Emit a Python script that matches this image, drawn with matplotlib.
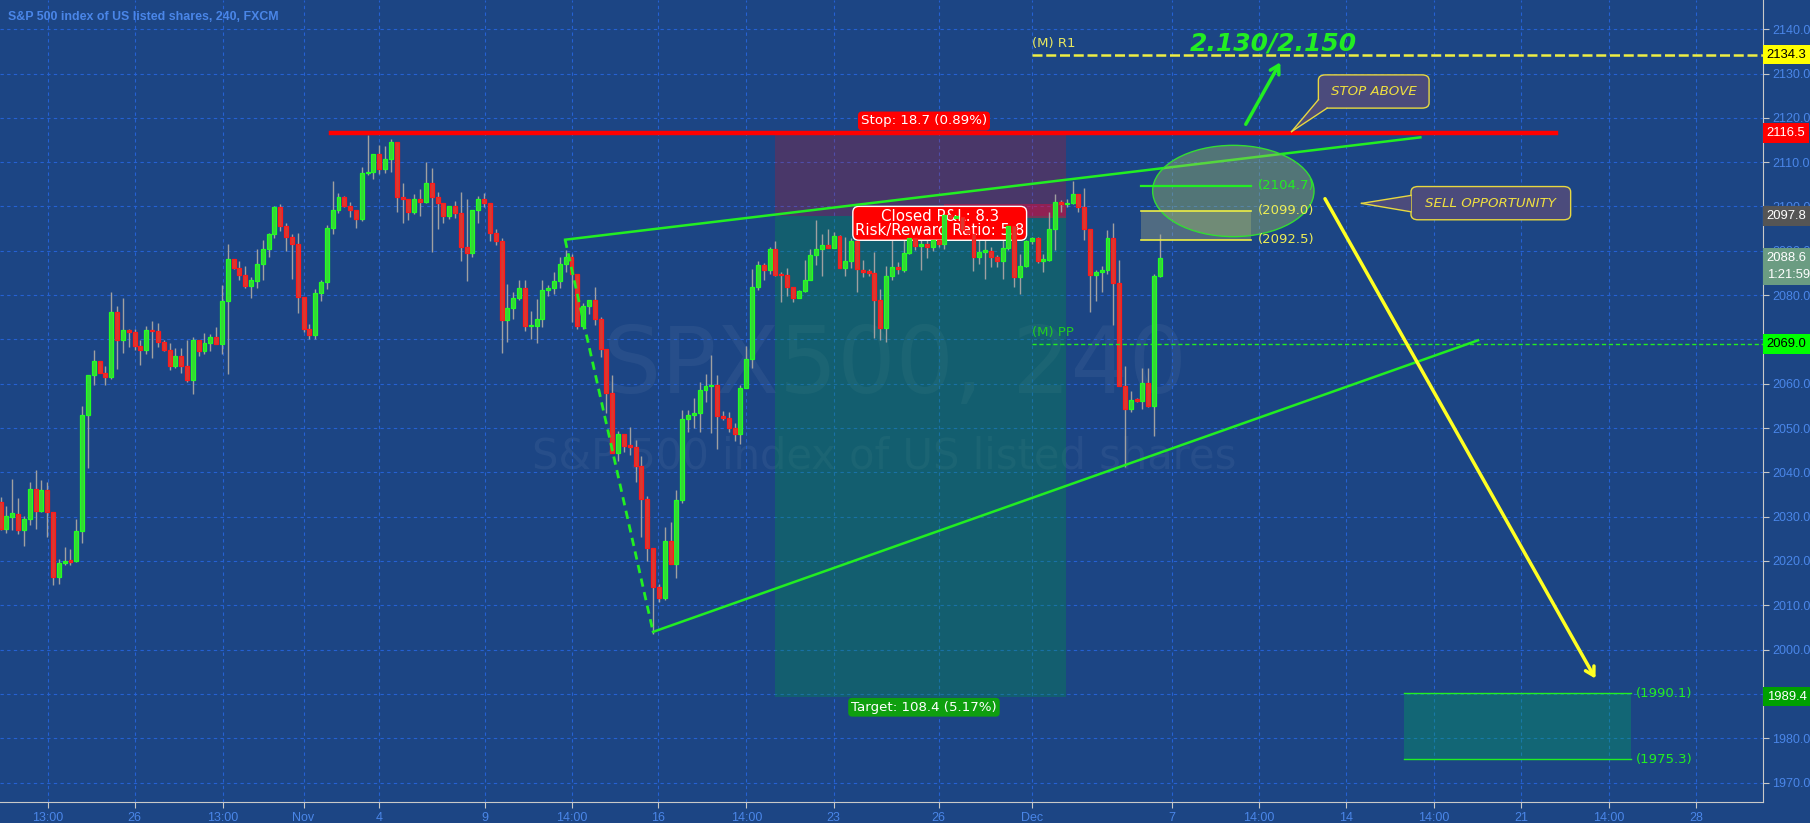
#!/usr/bin/env python
"""SPX500 4h chart (TradingView style) with a short trade idea drawn on top."""
import numpy as np
import matplotlib
matplotlib.use("Agg")
import matplotlib.pyplot as plt
import matplotlib.transforms as mtransforms
from matplotlib.patches import Rectangle, Ellipse, FancyBboxPatch, Polygon

# colours
BG = "#1c4584"
GRID = "#2561d2"
AXIS_TXT = "#4a86e8"
UP_FILL, UP_EDGE = "#36d636", "#22ff22"
DN_FILL, DN_EDGE = "#d83a30", "#ff1a1a"
WICK = "#a0a0a0"
GREEN = "#22ee22"
YELLOW = "#eeee44"

# 4h candles
OPENS = [
    2033.4, 2027.2, 2030.0, 2030.7, 2026.9, 2029.4, 2036.2, 2031.3, 2036.0, 2031.0,
    2016.3, 2019.6, 2019.9, 2019.9, 2026.7, 2053.0, 2061.9, 2065.1, 2062.5, 2061.6,
    2076.3, 2069.8, 2072.1, 2071.6, 2068.5, 2067.6, 2072.1, 2071.9, 2069.4, 2067.6,
    2063.9, 2066.2, 2063.9, 2060.9, 2069.8, 2067.3, 2069.2, 2070.5, 2068.9, 2078.7,
    2088.2, 2086.2, 2084.6, 2082.1, 2083.1, 2087.1, 2090.5, 2093.7, 2099.8, 2095.7,
    2093.1, 2091.6, 2079.5, 2072.3, 2071.0, 2080.5, 2083.0, 2095.2, 2099.3, 2102.1,
    2100.2, 2099.3, 2097.2, 2107.5, 2107.7, 2111.8, 2108.4, 2110.7, 2114.5, 2102.1,
    2101.6, 2098.7, 2101.8, 2101.1, 2105.2, 2102.2, 2100.7, 2097.9, 2100.2, 2098.6,
    2090.9, 2089.5, 2099.3, 2101.8, 2100.8, 2094.1, 2092.2, 2074.4, 2077.1, 2079.4,
    2081.6, 2073.0, 2073.0, 2074.6, 2081.2, 2081.6, 2083.2, 2087.1, 2088.7, 2084.7,
    2073.0, 2077.5, 2078.9, 2074.5, 2067.8, 2058.0, 2044.3, 2048.7, 2045.9, 2045.7,
    2041.5, 2034.0, 2022.9, 2014.2, 2011.7, 2024.4, 2019.4, 2033.8, 2052.1, 2053.0,
    2053.3, 2058.5, 2059.4, 2059.6, 2052.8, 2052.3, 2050.0, 2048.7, 2059.1, 2065.5,
    2081.9, 2086.7, 2085.7, 2090.5, 2084.6, 2084.5, 2081.9, 2079.4, 2081.0, 2083.4,
    2089.0, 2090.5, 2091.2, 2090.7, 2093.3, 2086.2, 2087.8, 2092.1, 2085.6, 2085.3,
    2085.1, 2078.9, 2072.6, 2084.2, 2086.2, 2085.7, 2089.6, 2092.9, 2091.1, 2091.5,
    2090.9, 2092.5, 2091.6, 2098.0, 2097.4, 2097.7, 2094.6, 2093.9, 2088.5, 2089.8,
    2090.0, 2088.5, 2087.8, 2090.6, 2095.6, 2084.0, 2086.6, 2092.1, 2092.8, 2087.8,
    2088.0, 2095.0, 2101.1, 2100.5, 2100.7, 2102.8, 2099.8, 2094.9, 2084.6, 2085.3,
    2085.7, 2093.0, 2082.8, 2059.5, 2054.4, 2056.5, 2056.1, 2060.1, 2054.9, 2084.2,
]
HIGHS = [
    2034.5, 2032.5, 2038.5, 2034.1, 2030.1, 2037.9, 2040.6, 2038.3, 2037.9, 2031.0,
    2020.4, 2023.2, 2022.8, 2029.4, 2054.9, 2061.9, 2067.6, 2065.1, 2064.0, 2080.6,
    2077.6, 2079.4, 2072.3, 2072.3, 2069.9, 2073.1, 2074.2, 2073.8, 2069.9, 2069.2,
    2068.1, 2068.0, 2069.8, 2070.6, 2069.8, 2071.5, 2071.3, 2072.7, 2082.2, 2091.6,
    2088.2, 2087.8, 2086.6, 2084.1, 2090.3, 2092.4, 2094.1, 2100.2, 2100.5, 2096.2,
    2093.9, 2094.1, 2079.5, 2073.5, 2081.4, 2083.4, 2095.8, 2105.8, 2103.0, 2102.4,
    2101.0, 2099.3, 2108.9, 2116.2, 2111.8, 2113.9, 2113.7, 2115.2, 2114.5, 2105.2,
    2101.6, 2102.8, 2103.9, 2110.1, 2108.6, 2103.3, 2100.7, 2100.2, 2101.2, 2103.3,
    2101.8, 2099.3, 2102.4, 2103.0, 2100.8, 2094.9, 2092.8, 2082.5, 2080.6, 2083.5,
    2083.4, 2076.5, 2079.2, 2083.5, 2082.2, 2085.3, 2088.7, 2090.1, 2089.3, 2084.7,
    2078.2, 2078.9, 2081.8, 2075.0, 2067.8, 2062.0, 2049.3, 2048.7, 2050.2, 2047.4,
    2043.6, 2034.7, 2022.9, 2014.8, 2027.7, 2028.8, 2036.0, 2054.0, 2054.0, 2056.7,
    2060.5, 2062.3, 2066.5, 2061.9, 2053.8, 2053.6, 2051.1, 2059.8, 2068.5, 2085.8,
    2087.7, 2087.2, 2090.9, 2092.2, 2085.2, 2086.1, 2081.9, 2081.2, 2088.0, 2090.3,
    2096.9, 2093.9, 2095.0, 2094.2, 2093.6, 2093.1, 2093.0, 2093.1, 2088.0, 2085.9,
    2089.7, 2081.3, 2086.6, 2093.9, 2087.5, 2092.4, 2093.5, 2093.5, 2093.9, 2093.9,
    2094.5, 2094.6, 2098.3, 2099.6, 2098.4, 2097.9, 2095.4, 2094.0, 2092.4, 2093.5,
    2090.9, 2089.0, 2092.8, 2096.2, 2095.6, 2089.2, 2092.5, 2093.1, 2093.1, 2089.3,
    2098.8, 2102.8, 2101.5, 2101.8, 2105.8, 2102.8, 2104.1, 2094.9, 2085.6, 2086.5,
    2094.6, 2096.2, 2088.0, 2064.0, 2058.3, 2056.8, 2063.6, 2063.6, 2084.7, 2093.7,
]
LOWS = [
    2026.9, 2026.4, 2026.9, 2026.0, 2023.3, 2028.1, 2027.3, 2031.1, 2025.3, 2014.5,
    2014.8, 2019.0, 2019.0, 2019.8, 2024.1, 2040.9, 2059.8, 2062.5, 2059.8, 2061.1,
    2063.3, 2067.0, 2068.2, 2067.7, 2064.2, 2066.7, 2065.7, 2068.2, 2067.4, 2063.2,
    2063.6, 2062.5, 2060.3, 2057.7, 2066.2, 2066.8, 2067.3, 2068.9, 2066.8, 2062.1,
    2086.0, 2083.4, 2081.6, 2079.4, 2081.6, 2083.4, 2088.6, 2093.0, 2094.4, 2090.0,
    2083.7, 2076.0, 2071.6, 2070.2, 2070.2, 2078.6, 2081.4, 2093.9, 2098.6, 2099.8,
    2097.7, 2095.2, 2096.7, 2107.1, 2106.3, 2107.4, 2107.5, 2107.7, 2098.8, 2096.2,
    2096.9, 2098.4, 2097.9, 2100.8, 2089.7, 2094.9, 2096.2, 2097.1, 2097.3, 2087.7,
    2083.1, 2088.6, 2096.3, 2099.8, 2092.2, 2091.2, 2067.0, 2069.5, 2074.7, 2078.8,
    2072.0, 2070.0, 2069.1, 2072.7, 2079.7, 2080.3, 2081.6, 2085.2, 2074.0, 2072.3,
    2072.3, 2075.7, 2073.3, 2066.1, 2053.4, 2044.3, 2042.6, 2044.7, 2044.0, 2037.9,
    2025.4, 2020.1, 2003.5, 2010.8, 2011.3, 2019.4, 2016.2, 2033.0, 2049.1, 2050.0,
    2049.1, 2055.9, 2048.9, 2045.2, 2051.9, 2049.1, 2047.0, 2046.4, 2059.1, 2063.6,
    2081.2, 2083.3, 2084.8, 2084.2, 2078.4, 2079.9, 2078.4, 2079.3, 2080.8, 2083.3,
    2086.9, 2084.4, 2090.7, 2090.7, 2086.1, 2084.3, 2086.1, 2080.7, 2084.1, 2084.2,
    2070.3, 2069.8, 2069.5, 2083.4, 2084.8, 2085.3, 2089.3, 2090.1, 2085.7, 2088.4,
    2089.9, 2090.9, 2090.5, 2096.9, 2096.9, 2093.9, 2093.5, 2085.4, 2087.1, 2083.7,
    2086.3, 2086.3, 2083.7, 2090.1, 2081.9, 2080.3, 2086.3, 2091.6, 2087.2, 2085.2,
    2087.8, 2090.1, 2098.8, 2099.8, 2100.5, 2098.8, 2092.5, 2076.1, 2078.6, 2080.7,
    2084.8, 2073.2, 2059.5, 2041.1, 2053.6, 2055.9, 2054.2, 2054.8, 2048.1, 2084.1,
]
CLOSES = [
    2027.2, 2030.1, 2030.8, 2026.9, 2029.4, 2036.2, 2031.3, 2036.0, 2031.0, 2016.4,
    2019.6, 2019.9, 2019.8, 2026.7, 2053.0, 2061.9, 2065.1, 2062.5, 2061.6, 2076.3,
    2069.8, 2072.1, 2071.6, 2068.5, 2067.6, 2072.1, 2071.8, 2069.4, 2067.6, 2063.9,
    2066.2, 2063.9, 2060.9, 2069.8, 2067.3, 2069.2, 2070.6, 2068.9, 2078.7, 2088.2,
    2086.2, 2084.6, 2082.1, 2083.3, 2087.1, 2090.5, 2093.7, 2099.8, 2095.7, 2093.1,
    2091.6, 2079.5, 2072.3, 2071.0, 2080.5, 2083.0, 2095.2, 2099.3, 2102.1, 2100.2,
    2099.3, 2097.2, 2107.5, 2107.7, 2111.8, 2108.4, 2110.7, 2114.5, 2102.1, 2101.7,
    2098.7, 2101.8, 2101.1, 2105.2, 2102.2, 2100.7, 2097.9, 2100.2, 2098.6, 2090.9,
    2089.5, 2099.3, 2101.8, 2100.8, 2094.1, 2092.2, 2074.4, 2077.1, 2079.4, 2081.6,
    2073.0, 2073.0, 2074.6, 2081.2, 2081.6, 2083.2, 2087.1, 2088.7, 2084.7, 2073.0,
    2077.5, 2078.9, 2074.5, 2067.8, 2058.0, 2044.3, 2048.7, 2045.9, 2045.8, 2041.5,
    2034.0, 2022.9, 2014.2, 2011.7, 2024.4, 2019.4, 2033.8, 2052.1, 2053.0, 2053.3,
    2058.5, 2059.5, 2059.6, 2052.8, 2052.3, 2050.0, 2048.7, 2059.1, 2065.5, 2081.9,
    2086.7, 2085.7, 2090.5, 2084.6, 2084.5, 2081.9, 2079.4, 2081.0, 2083.4, 2089.0,
    2090.5, 2091.2, 2090.7, 2093.3, 2086.2, 2087.8, 2092.1, 2085.8, 2085.3, 2085.1,
    2078.9, 2072.6, 2084.2, 2086.3, 2085.9, 2089.6, 2092.9, 2091.1, 2091.6, 2090.9,
    2092.5, 2091.6, 2098.1, 2097.4, 2097.6, 2094.6, 2094.1, 2088.5, 2089.8, 2090.0,
    2088.5, 2087.8, 2090.6, 2095.6, 2084.0, 2086.6, 2092.1, 2092.8, 2087.8, 2088.0,
    2095.0, 2101.1, 2100.5, 2100.7, 2102.8, 2099.8, 2094.9, 2084.6, 2085.3, 2085.7,
    2093.0, 2082.8, 2059.5, 2054.4, 2056.4, 2056.1, 2060.1, 2054.9, 2084.2, 2088.3,
]

# time axis (bar index units, 6 bars a day)
XTICK_POS = [8.1, 23, 38.1, 52, 65, 83.1, 98, 112.9, 128, 143, 161, 177,
             201, 216, 231, 246, 261, 276, 291]
XTICK_LABELS = ["13:00", "26", "13:00", "Nov", "4", "9", "14:00", "16", "14:00",
                "23", "26", "Dec", "7", "14:00", "14", "14:00", "21", "14:00", "28"]
YTICKS = list(range(1970, 2141, 10))

# trade levels
STOP_LEVEL = 2116.5
ENTRY = 2097.8
TARGET = 1989.4
R1 = 2134.3
PP = 2069.0
BOX_LEVELS = [2104.7, 2099.0, 2092.5]
TARGET_BOX = [1990.1, 1975.3]

# right axis price tags: text, price, box colour, text colour
PRICE_TAGS = [
    ("2134.3", 2134.3, "#ffff00", "black"),
    ("2116.5", 2116.5, "#ff0000", "white"),
    ("2097.8", 2097.8, "#555555", "white"),
    ("2088.6", 2088.4, "#6b9c82", "white"),
    ("1:21:59", 2084.6, "#6b9c82", "white"),
    ("2069.0", 2069.0, "#00ff00", "black"),
    ("1989.4", 1989.4, "#00a000", "white"),
]


def draw_candles(ax):
    o = np.array(OPENS)
    c = np.array(CLOSES)
    h = np.maximum(np.array(HIGHS), np.maximum(o, c))
    l = np.minimum(np.array(LOWS), np.minimum(o, c))
    x = np.arange(len(o))
    up = c >= o
    ax.vlines(x, l, h, color=WICK, lw=1, zorder=3)
    bottom = np.minimum(o, c)
    height = np.maximum(np.abs(c - o), 0.35)
    ax.bar(x[up], height[up], bottom=bottom[up], width=0.68, color=UP_FILL,
           edgecolor=UP_EDGE, linewidth=0.9, zorder=4)
    ax.bar(x[~up], height[~up], bottom=bottom[~up], width=0.68, color=DN_FILL,
           edgecolor=DN_EDGE, linewidth=0.9, zorder=4)


def callout(ax, x0, x1, y0, y1, tail, text):
    """rounded box with a pointer triangle, TradingView callout style"""
    box = FancyBboxPatch((x0, y0), x1 - x0, y1 - y0,
                         boxstyle="round,pad=0,rounding_size=1.2",
                         fc="#4b4b7c", ec="#e8d840", lw=1, zorder=7)
    ax.add_patch(box)
    ax.add_patch(Polygon(tail, closed=True, fc="#4b4b7c", ec="none", zorder=7.1))
    ax.plot([tail[0][0], tail[2][0]], [tail[0][1], tail[2][1]], color="#e8d840", lw=1, zorder=7.2)
    ax.plot([tail[1][0], tail[2][0]], [tail[1][1], tail[2][1]], color="#e8d840", lw=1, zorder=7.2)
    ax.text((x0 + x1) / 2, (y0 + y1) / 2, text, color="#f0e040", fontsize=9.6,
            style="italic", ha="center", va="center", zorder=7.3)


def main():
    plt.rcParams["font.family"] = ["DejaVu Sans"]
    fig = plt.figure(figsize=(18.1, 8.23), dpi=100, facecolor=BG)
    ax = fig.add_axes([0, 0.0255, 0.9743, 0.9745], facecolor=BG)

    draw_candles(ax)

    # trade zones
    ax.add_patch(Rectangle((132.9, ENTRY), 182.8 - 132.9, STOP_LEVEL - ENTRY,
                           fc=(1, 0, 0, 0.2), ec="none", zorder=1))
    ax.add_patch(Rectangle((161.9, 2097.4), 182.8 - 161.9, 3.1,
                           fc=(1, 0, 0.2, 0.4), ec="none", zorder=1.1))
    ax.add_patch(Rectangle((132.9, TARGET), 182.8 - 132.9, ENTRY - TARGET,
                           fc=(0.0, 0.6, 0.25, 0.3), ec="none", zorder=1))

    # stop line and trend lines
    ax.plot([56.8, 266.9], [STOP_LEVEL, STOP_LEVEL], color="#ff0000", lw=3.2, zorder=6)
    ax.plot([96.9, 243.7], [2092.5, 2115.6], color=GREEN, lw=1.8, zorder=5)
    ax.plot([96.9, 112.0], [2092.5, 2004.0], color=GREEN, lw=2, dashes=(3, 2), zorder=5)
    ax.plot([112.0, 253.6], [2004.0, 2069.8], color=GREEN, lw=1.8, zorder=5)

    # monthly pivots
    ax.plot([177, 310], [R1, R1], color=YELLOW, lw=1.8, dashes=(4, 1.5), zorder=5)
    ax.text(177, 2135.4, "(M) R1", color="#e8e860", fontsize=9.5, ha="left", va="bottom", zorder=5)
    ax.plot([177, 310], [PP, PP], color=GREEN, lw=1, dashes=(3, 2), zorder=5)
    ax.text(177, 2070.2, "(M) PP", color="#22cc22", fontsize=9.5, ha="left", va="bottom", zorder=5)

    # sell zone
    ax.add_patch(Rectangle((195.7, BOX_LEVELS[2]), 214.6 - 195.7, BOX_LEVELS[1] - BOX_LEVELS[2],
                           fc=(0.7, 0.7, 0.5, 0.35), ec="none", zorder=5))
    ax.plot([195.7, 214.6], [BOX_LEVELS[1]] * 2, color=YELLOW, lw=1.2, zorder=5.5)
    ax.plot([195.7, 214.6], [BOX_LEVELS[2]] * 2, color=YELLOW, lw=1.2, zorder=5.5)
    ax.plot([195.7, 214.6], [BOX_LEVELS[0]] * 2, color=GREEN, lw=1.6, zorder=5.5)
    ax.add_patch(Ellipse((211.6, 2103.5), 27.7, 20.6, fc=(0.62, 0.72, 0.4, 0.42),
                         ec="#33dd33", lw=1, zorder=5.2))
    for lvl, col in zip(BOX_LEVELS, [GREEN, "#eeee55", "#eeee55"]):
        ax.text(215.8, lvl, "({:.1f})".format(lvl), color=col, fontsize=9.5,
                ha="left", va="center", zorder=6)

    # target box
    ax.add_patch(Rectangle((240.9, TARGET_BOX[1]), 279.8 - 240.9, TARGET_BOX[0] - TARGET_BOX[1],
                           fc=(0.0, 0.65, 0.35, 0.35), ec="none", zorder=2))
    for lvl in TARGET_BOX:
        ax.plot([240.9, 279.8], [lvl, lvl], color=GREEN, lw=1, zorder=2.5)
        ax.text(280.7, lvl, "({:.1f})".format(lvl), color=GREEN, fontsize=9.5,
                ha="left", va="center", zorder=6)

    # arrows and big target text
    ax.annotate("", xy=(219.9, 2133.1), xytext=(213.5, 2118.0),
                arrowprops=dict(arrowstyle="->,head_length=0.6,head_width=0.35",
                                color=GREEN, lw=2.5), zorder=6)
    ax.annotate("", xy=(274.0, 1992.9), xytext=(227.1, 2102.3),
                arrowprops=dict(arrowstyle="->,head_length=0.6,head_width=0.35",
                                color="#ffff22", lw=2.5), zorder=6)
    ax.text(218.5, 2136.7, "2.130/2.150", color=GREEN, fontsize=18, fontweight="bold",
            style="italic", ha="center", va="center", zorder=6)

    callout(ax, 226.2, 245.2, 2122.2, 2129.7,
            [(226.2, 2124.1), (227.7, 2122.2), (221.6, 2116.9)], "STOP ABOVE")
    callout(ax, 242.1, 269.5, 2097.0, 2104.5,
            [(242.1, 2102.5), (242.1, 2098.8), (233.6, 2100.7)], "SELL OPPORTUNITY")

    # position tool labels
    ax.text(158.5, 2119.3, "Stop: 18.7 (0.89%)", color="white", fontsize=9.6, ha="center",
            va="center", zorder=8,
            bbox=dict(boxstyle="round,pad=0.22,rounding_size=0.3", fc="#ff0000", ec="none"))
    ax.text(158.5, 1987.0, "Target: 108.4 (5.17%)", color="white", fontsize=9.6, ha="center",
            va="center", zorder=8,
            bbox=dict(boxstyle="round,pad=0.22,rounding_size=0.3", fc="#0f9f0f", ec="none"))
    ax.text(161.2, 2096.2, "Closed P&L: 8.3\nRisk/Reward Ratio: 5.8", color="white",
            fontsize=10.8, ha="center", va="center", linespacing=0.95, zorder=3.5,
            bbox=dict(boxstyle="round,pad=0.15,rounding_size=0.4", fc="#ff0000", ec="white", lw=1))

    # watermark
    ax.text(153.6, 2063.8, "SPX500, 240", color="white", alpha=0.05, fontsize=66,
            ha="center", va="center", zorder=0.5)
    ax.text(151.6, 2043.5, "S&P 500 index of US listed shares", color="white", alpha=0.05,
            fontsize=30, ha="center", va="center", zorder=0.5)

    ax.text(0.0045, 0.979, "S&P 500 index of US listed shares, 240, FXCM", transform=ax.transAxes,
            color=AXIS_TXT, fontsize=8.9, fontweight="bold", family="Liberation Sans",
            ha="left", va="center")

    # axes look
    ax.set_xlim(-0.1, 302.6)
    ax.set_ylim(1965.6, 2146.6)
    ax.set_axisbelow(True)
    ax.grid(True, color=GRID, linestyle=(0, (3, 3)), linewidth=0.8)
    for side in ("top", "left"):
        ax.spines[side].set_visible(False)
    for side in ("right", "bottom"):
        ax.spines[side].set_color("#c8c8c8")
    ax.set_xticks(XTICK_POS)
    ax.set_xticklabels(XTICK_LABELS, family="Liberation Sans")
    ax.yaxis.tick_right()
    ax.set_yticks(YTICKS)
    ax.set_yticklabels(["{:.1f}".format(v) for v in YTICKS], family="Liberation Sans")
    ax.tick_params(axis="both", colors="#c8c8c8", labelcolor=AXIS_TXT, labelsize=9, length=4)
    ax.tick_params(axis="y", pad=2)
    ax.tick_params(axis="x", pad=3)

    blend = mtransforms.blended_transform_factory(ax.transAxes, ax.transData)
    for text, price, fc, tc in PRICE_TAGS:
        ax.text(1.0018, price, text, transform=blend, color=tc, fontsize=9.4,
                family="Liberation Sans", ha="left", va="center", clip_on=False, zorder=10,
                bbox=dict(boxstyle="square,pad=0.3", fc=fc, ec="none"))

    fig.savefig("out.png", dpi=100, facecolor=BG)


if __name__ == "__main__":
    main()
